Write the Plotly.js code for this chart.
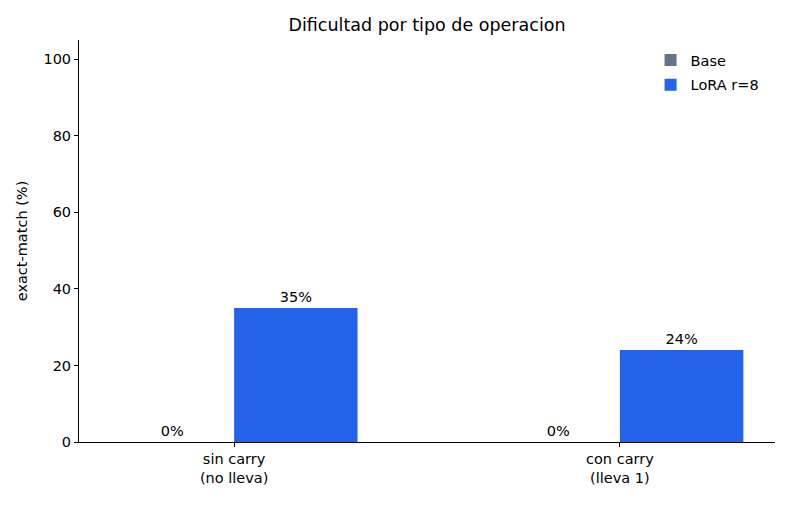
<!DOCTYPE html>
<html>
<head>
<meta charset="utf-8">
<script src="https://cdn.plot.ly/plotly-3.0.1.min.js"></script>
<style>body{margin:0;background:#fff}</style>
</head>
<body>
<div id="chart" style="width:792px;height:506px"></div>
<script>
var categories = ['sin carry<br>(no lleva)', 'con carry<br>(lleva 1)'];
var base_values = [0, 0];
var lora_values = [35, 24];
var yticks = [0, 20, 40, 60, 80, 100];

var font = {family: 'DejaVu Sans', size: 14.5, color: '#000'};

function barTrace(name, vals, color) {
  return {
    type: 'bar',
    name: name,
    legendgroup: name,
    x: categories,
    y: vals,
    marker: {color: color},
    text: vals.map(function (v) { return v + '%'; }),
    textposition: 'outside',
    textfont: font,
    cliponaxis: false,
    hoverinfo: 'none'
  };
}

var data = [
  barTrace('Base', base_values, '#64748b'),
  barTrace('LoRA r=8', lora_values, '#2563eb')
];

var layout = {
  width: 792,
  height: 506,
  font: font,
  paper_bgcolor: '#fff',
  plot_bgcolor: '#fff',
  barmode: 'group',
  bargap: 0.36,
  bargroupgap: 0,
  margin: {l: 79, r: 17, t: 40, b: 64, pad: 0},
  title: {text: 'Dificultad por tipo de operacion', font: {family: 'DejaVu Sans', size: 17.5, color: '#000'}, xref: 'paper', x: 0.5, xanchor: 'center', y: 0.95, yanchor: 'middle'},
  xaxis: {
    range: [-0.402, 1.402],
    showline: true, linecolor: '#000', linewidth: 1,
    ticks: 'outside', ticklen: 4, tickcolor: '#000',
    showgrid: false, zeroline: false,
    tickfont: font
  },
  yaxis: {
    range: [0, 105],
    tickvals: yticks,
    showline: true, linecolor: '#000', linewidth: 1,
    ticks: 'outside', ticklen: 4, tickcolor: '#000',
    showgrid: false, zeroline: false,
    tickfont: font,
    title: {text: 'exact-match (%)', font: font, standoff: 12}
  },
  legend: {
    x: 0.985, xanchor: 'right', y: 0.99, yanchor: 'top',
    traceorder: 'grouped', tracegroupgap: 3,
    bgcolor: 'rgba(0,0,0,0)', font: font, itemwidth: 30
  },
  showlegend: true
};

Plotly.newPlot('chart', data, layout, {displayModeBar: false, staticPlot: true});
</script>
</body>
</html>
